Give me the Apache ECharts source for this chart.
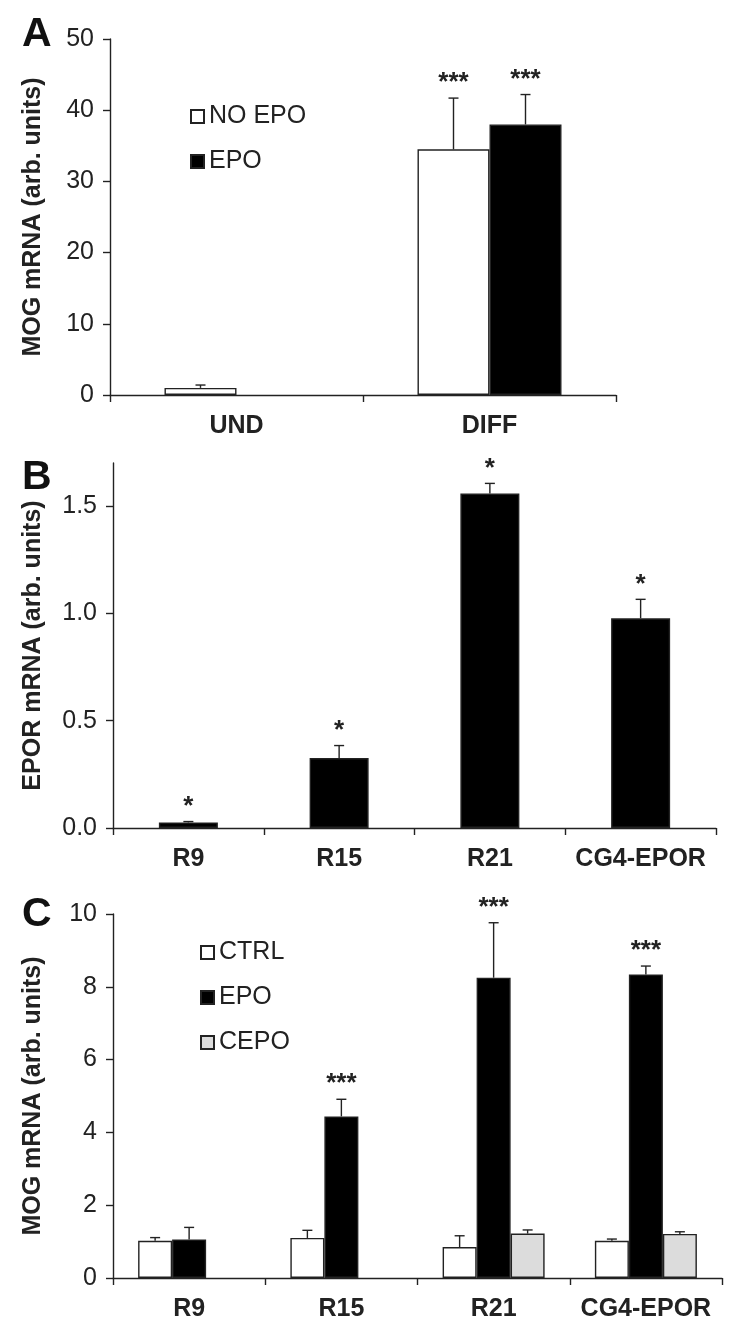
<!DOCTYPE html>
<html><head><meta charset="utf-8">
<script src="https://cdn.jsdelivr.net/npm/echarts@6/dist/echarts.min.js"></script>
<style>html,body{margin:0;padding:0;background:#fff}#c{width:745px;height:1341px}</style>
</head><body><div id="c"></div><script>
// ---------- Panel A ----------
const catsA = ['UND', 'DIFF'];
const aNoEpo = [1.0, 34.5];
const aNoEpoErr = [0.4, 7.2];
const aEpo = [null, 38.0];
const aEpoErr = [null, 4.2];
const aNoEpoSig = ['', '***'];
const aEpoSig = ['', '***'];
const yTicksA = [0, 10, 20, 30, 40, 50];

// ---------- Panel B ----------
const catsB = ['R9', 'R15', 'R21', 'CG4-EPOR'];
const bEpor = [0.026, 0.326, 1.558, 0.977];
const bEporErr = [0.004, 0.058, 0.047, 0.088];
const bSig = ['*', '*', '*', '*'];
const yTicksB = [0, 0.5, 1.0, 1.5];

// ---------- Panel C ----------
const catsC = ['R9', 'R15', 'R21', 'CG4-EPOR'];
const cCtrl = [1.02, 1.10, 0.85, 1.02];
const cCtrlErr = [0.09, 0.21, 0.31, 0.05];
const cEpo = [1.06, 4.44, 8.25, 8.34];
const cEpoErr = [0.33, 0.47, 1.51, 0.23];
const cCepo = [null, null, 1.22, 1.21];
const cCepoErr = [null, null, 0.10, 0.06];
const cEpoSig = ['', '***', '***', '***'];
const yTicksC = [0, 2, 4, 6, 8, 10];

const FONT = '"Liberation Sans", Arial, Helvetica, sans-serif';
const INK = '#222';

function errSeries(gi, vals, errs, sigs, idx, n, bw) {
  const items = [];
  vals.forEach((v, i) => { if (v != null) items.push({ i, v, e: errs[i] || 0, s: sigs ? sigs[i] : '' }); });
  return {
    type: 'custom', xAxisIndex: gi, yAxisIndex: gi, z: 5, silent: true,
    data: items.map(it => [it.i, it.v + it.e]),
    renderItem: (params, api) => {
      const it = items[params.dataIndex];
      const base = api.coord([it.i, it.v]);
      const top = api.coord([it.i, it.v + it.e]);
      const x = base[0] + (idx - (n - 1) / 2) * bw;
      const ch = [];
      if (it.e > 0) {
        ch.push({ type: 'line', shape: { x1: x, y1: base[1], x2: x, y2: top[1] }, style: { stroke: INK, lineWidth: 1.4 } });
        ch.push({ type: 'line', shape: { x1: x - 5, y1: top[1], x2: x + 5, y2: top[1] }, style: { stroke: INK, lineWidth: 1.4 } });
      }
      if (it.s) {
        ch.push({ type: 'text', x: x, y: top[1] - 2, style: { text: it.s, font: 'bold 26px ' + FONT, fill: INK, align: 'center', verticalAlign: 'bottom' } });
      }
      return { type: 'group', children: ch };
    }
  };
}

function yAxis(gi, min, max, ticks, name, fmt, gap) {
  return {
    type: 'value', gridIndex: gi, min, max,
    name, nameLocation: 'middle', nameGap: gap, nameRotate: 90,
    nameTextStyle: { fontFamily: FONT, fontWeight: 'bold', fontSize: 25, color: INK },
    splitLine: { show: false },
    axisLine: { show: true, lineStyle: { color: INK, width: 1.4 } },
    axisTick: { show: true, length: 7, customValues: ticks, lineStyle: { color: INK, width: 1.4 } },
    axisLabel: { customValues: ticks, margin: 16, fontFamily: FONT, fontSize: 25, color: INK, formatter: fmt }
  };
}
function xAxis(gi, cats) {
  return {
    type: 'category', gridIndex: gi, data: cats,
    axisLine: { lineStyle: { color: INK, width: 1.4 } },
    axisTick: { show: true, length: 7, interval: 0, lineStyle: { color: INK, width: 1.4 } },
    axisLabel: { interval: 0, margin: 19, fontFamily: FONT, fontSize: 25, fontWeight: 'bold', color: INK }
  };
}
const whiteStyle = { color: '#ffffff', borderColor: INK, borderWidth: 1.4 };
const blackStyle = { color: '#000000', borderColor: INK, borderWidth: 1.4 };
const greyStyle = { color: '#dcdcdc', borderColor: INK, borderWidth: 1.4 };

const chart = echarts.init(document.getElementById('c'), null, { renderer: 'canvas' });
chart.setOption({
  animation: false,
  backgroundColor: '#ffffff',
  grid: [
    { left: 110, right: 129, top: 39, height: 356, outerBoundsMode: 'none' },
    { left: 113, right: 29, top: 463, height: 365, outerBoundsMode: 'none' },
    { left: 113, right: 23, top: 914, height: 364, outerBoundsMode: 'none' }
  ],
  xAxis: [xAxis(0, catsA), xAxis(1, catsB), xAxis(2, catsC)],
  yAxis: [
    yAxis(0, 0, 50, yTicksA, 'MOG mRNA (arb. units)', v => String(v), 64),
    yAxis(1, 0, 1.7, yTicksB, 'EPOR mRNA (arb. units)', v => v.toFixed(1), 67),
    yAxis(2, 0, 10, yTicksC, 'MOG mRNA (arb. units)', v => String(v), 67)
  ],
  legend: [
    { data: ['NO EPO', 'EPO'], orient: 'vertical', left: 190, top: 104, padding: 0, itemGap: 20,
      itemWidth: 13, itemHeight: 13, icon: 'rect', selectedMode: false,
      textStyle: { fontFamily: FONT, fontSize: 25, color: INK } },
    { data: ['CTRL', 'EPO', 'CEPO'], orient: 'vertical', left: 200, top: 940, padding: 0, itemGap: 20,
      itemWidth: 13, itemHeight: 13, icon: 'rect', selectedMode: false,
      textStyle: { fontFamily: FONT, fontSize: 25, color: INK } }
  ],
  graphic: [
    { type: 'text', left: 22, top: 14, style: { text: 'A', font: 'bold 41px ' + FONT, fill: '#111' } },
    { type: 'text', left: 22, top: 457, style: { text: 'B', font: 'bold 41px ' + FONT, fill: '#111' } },
    { type: 'text', left: 22, top: 894, style: { text: 'C', font: 'bold 41px ' + FONT, fill: '#111' } }
  ],
  series: [
    { name: 'NO EPO', type: 'bar', xAxisIndex: 0, yAxisIndex: 0, data: aNoEpo, barWidth: 72, barGap: '0%', itemStyle: whiteStyle },
    { name: 'EPO', type: 'bar', xAxisIndex: 0, yAxisIndex: 0, data: aEpo, barWidth: 72, barGap: '0%', itemStyle: blackStyle },
    errSeries(0, aNoEpo, aNoEpoErr, aNoEpoSig, 0, 2, 72),
    errSeries(0, aEpo, aEpoErr, aEpoSig, 1, 2, 72),

    { name: 'EPOR', type: 'bar', xAxisIndex: 1, yAxisIndex: 1, data: bEpor, barWidth: 59, itemStyle: blackStyle },
    errSeries(1, bEpor, bEporErr, bSig, 0, 1, 59),

    { name: 'CTRL', type: 'bar', xAxisIndex: 2, yAxisIndex: 2, data: cCtrl, barWidth: 34, barGap: '0%', itemStyle: whiteStyle },
    { name: 'EPO', type: 'bar', xAxisIndex: 2, yAxisIndex: 2, data: cEpo, barWidth: 34, barGap: '0%', itemStyle: blackStyle },
    { name: 'CEPO', type: 'bar', xAxisIndex: 2, yAxisIndex: 2, data: cCepo, barWidth: 34, barGap: '0%', itemStyle: greyStyle },
    errSeries(2, cCtrl, cCtrlErr, null, 0, 3, 34),
    errSeries(2, cEpo, cEpoErr, cEpoSig, 1, 3, 34),
    errSeries(2, cCepo, cCepoErr, null, 2, 3, 34)
  ]
});
</script></body></html>
